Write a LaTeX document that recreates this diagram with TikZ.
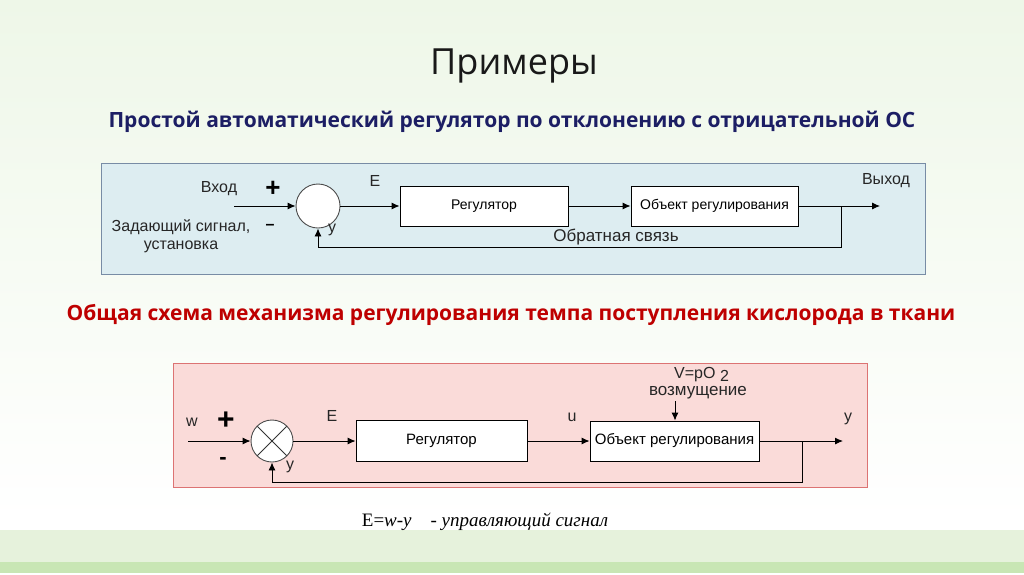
\documentclass[tikz,border=0pt]{standalone}
\usepackage{fontspec}
\setmainfont{Liberation Sans}
\newfontfamily\headfont{Open Sans}
\newfontfamily\formulafont{Liberation Serif}
\usepackage{tikz}
\usetikzlibrary{arrows.meta,positioning}
\definecolor{slidebg}{RGB}{238,247,232}
\definecolor{bandlight}{RGB}{230,242,220}
\definecolor{banddark}{RGB}{200,230,180}
\definecolor{navyhead}{RGB}{28,30,100}
\definecolor{redhead}{RGB}{190,0,0}
\definecolor{bluefill}{RGB}{221,237,241}
\definecolor{blueedge}{RGB}{120,140,165}
\definecolor{pinkfill}{RGB}{250,219,217}
\definecolor{pinkedge}{RGB}{220,115,115}

\begin{document}
\begin{tikzpicture}[x=1pt,y=-1pt,
  blockbox/.style={draw=black, line width=0.9pt, fill=white, minimum height=40pt, inner sep=2pt, font=\fontsize{14}{16}\selectfont},
  sumnode/.style={draw=black!70, circle, fill=white, line width=0.9pt, inner sep=0pt},
  sig/.style={-{Latex[length=8pt,width=7pt]}, line width=0.9pt},
  lbl/.style={inner sep=0pt, text=black!85, font=\fontsize{16}{18}\selectfont},
  signlbl/.style={inner sep=0pt, font=\bfseries\fontsize{26}{26}\selectfont},
]
% Slide background
\useasboundingbox (0,0) rectangle (1024,574);
\fill[white] (0,0) rectangle (1024,574);
\shade[top color=slidebg, bottom color=white] (0,0) rectangle (1024,520);
\fill[bandlight] (0,530) rectangle (1024,562);
\fill[banddark] (0,562) rectangle (1024,573);

% Headings
\node[inner sep=0pt, text=black!90, font=\headfont\fontsize{36}{40}\selectfont] (title) at (514,66) {Примеры};
\node[inner sep=0pt, text=navyhead, font=\headfont\bfseries\fontsize{21}{24}\selectfont] (simple) at (512,122) {Простой автоматический регулятор по отклонению с отрицательной ОС};
\node[inner sep=0pt, text=redhead, font=\headfont\bfseries\fontsize{21}{24}\selectfont] (general) at (511,315) {Общая схема механизма регулирования темпа поступления кислорода в ткани};

% Diagram 1: simple regulator
\draw[draw=blueedge, fill=bluefill, line width=0.8pt] (101,163) rectangle (925,274);
\coordinate (inA) at (234,206);
\node[sumnode, minimum size=44pt] (sumA) at (318,206) {};
\node[blockbox, minimum width=168pt] (regA) at (484,206) {Регулятор};
\node[blockbox, minimum width=167pt] (objA) at (714.5,206) {Объект регулирования};
\coordinate (brA) at (841,206);
\coordinate (fbA) at (841,247);
\coordinate (outA) at (880,206);
\draw[sig] (inA) -- (sumA);
\draw[sig] (sumA) -- (regA);
\draw[sig] (regA) -- (objA);
\draw[sig] (objA) -- (outA);
\draw[sig] (brA) -- (fbA) -| (sumA.south);
\node[lbl] (inlblA) at (219,189) {Вход};
\node[signlbl] (plusA) at (273,189) {+};
\node[signlbl, font=\bfseries\fontsize{16}{16}\selectfont] (minusA) at (270,227) {--};
\node[lbl, align=center, font=\fontsize{16}{18}\selectfont] (setA) at (181,236) {Задающий сигнал,\\установка};
\node[lbl] (errA) at (375,181) {E};
\node[lbl] (yA) at (332,230) {y};
\node[lbl, font=\fontsize{17}{19}\selectfont] (fblblA) at (616,237) {Обратная связь};
\node[lbl] (outlblA) at (886,181) {Выход};

% Diagram 2: oxygen supply regulation
\draw[draw=pinkedge, fill=pinkfill, line width=0.8pt] (173,363) rectangle (867,487);
\coordinate (inB) at (188,441);
\node[sumnode, minimum size=42pt, path picture={
  \draw[black!80, line width=0.8pt] (path picture bounding box.south west) -- (path picture bounding box.north east)
    (path picture bounding box.north west) -- (path picture bounding box.south east);}] (sumB) at (272,441) {};
\node[blockbox, minimum width=171pt, minimum height=41pt, font=\fontsize{15}{17}\selectfont] (regB) at (441.5,441) {Регулятор};
\node[blockbox, minimum width=169pt, font=\fontsize{15}{17}\selectfont] (objB) at (674.5,441) {Объект регулирования};
\coordinate (brB) at (802,441);
\coordinate (fbB) at (802,482);
\coordinate (outB) at (843,441);
\coordinate (distB) at (675,401);
\draw[sig] (inB) -- (sumB);
\draw[sig] (sumB) -- (regB);
\draw[sig] (regB) -- (objB);
\draw[sig] (objB) -- (outB);
\draw[sig] (brB) -- (fbB) -| (sumB.south);
\draw[sig] (distB) -- (objB.north -| distB);
\node[lbl] (wB) at (192,422) {w};
\node[signlbl, font=\bfseries\fontsize{30}{30}\selectfont] (plusB) at (226,421) {+};
\node[signlbl, font=\bfseries\fontsize{22}{22}\selectfont] (minusB) at (223,461) {-};
\node[lbl] (errB) at (332,416) {E};
\node[lbl] (yinB) at (290,467) {y};
\node[lbl] (uB) at (572,417) {u};
\node[lbl] (youtB) at (848,419) {y};
\node[lbl, anchor=base west] (vB) at (674,378) {V=pO \raisebox{-3pt}{2}};
\node[lbl, font=\fontsize{17}{19}\selectfont] (pertB) at (698,393) {возмущение};

% Control signal
\node[inner sep=0pt, font=\formulafont\fontsize{19}{22}\selectfont] (ctrl) at (485,522) {E=\textit{w-y}\quad\textit{- управляющий сигнал}};
\end{tikzpicture}
\end{document}
